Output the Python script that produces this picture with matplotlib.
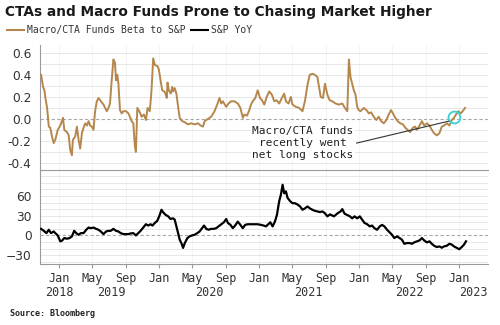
import matplotlib.pyplot as plt
import numpy as np

# Beta of Macro/CTA funds to the S&P 500 (time in decimal years)
beta_t = [2018.821, 2018.841, 2018.854, 2018.864, 2018.881, 2018.898, 2018.913, 2018.930,
          2018.947, 2018.963, 2018.987, 2019.013, 2019.040, 2019.053, 2019.080, 2019.097,
          2019.112, 2019.129, 2019.139, 2019.162, 2019.179, 2019.196, 2019.212, 2019.229,
          2019.246, 2019.262, 2019.279, 2019.296, 2019.311, 2019.328, 2019.345, 2019.361,
          2019.378, 2019.395, 2019.411, 2019.445, 2019.478, 2019.495, 2019.510, 2019.527,
          2019.544, 2019.560, 2019.570, 2019.584, 2019.594, 2019.610, 2019.627, 2019.644,
          2019.670, 2019.694, 2019.709, 2019.726, 2019.743, 2019.759, 2019.769, 2019.783,
          2019.803, 2019.826, 2019.849, 2019.869, 2019.886, 2019.908, 2019.925, 2019.942,
          2019.958, 2019.985, 2019.998, 2020.018, 2020.032, 2020.052, 2020.065, 2020.078,
          2020.085, 2020.098, 2020.118, 2020.132, 2020.141, 2020.157, 2020.174, 2020.191,
          2020.207, 2020.231, 2020.257, 2020.291, 2020.323, 2020.356, 2020.390, 2020.416,
          2020.440, 2020.456, 2020.490, 2020.522, 2020.555, 2020.582, 2020.605, 2020.622,
          2020.639, 2020.672, 2020.695, 2020.721, 2020.754, 2020.788, 2020.814, 2020.838,
          2020.854, 2020.881, 2020.903, 2020.920, 2020.937, 2020.963, 2020.987, 2021.010,
          2021.030, 2021.053, 2021.077, 2021.102, 2021.129, 2021.152, 2021.176, 2021.202,
          2021.229, 2021.252, 2021.269, 2021.296, 2021.318, 2021.335, 2021.368, 2021.401,
          2021.435, 2021.461, 2021.485, 2021.507, 2021.534, 2021.560, 2021.584, 2021.600,
          2021.617, 2021.640, 2021.660, 2021.684, 2021.706, 2021.733, 2021.766, 2021.799,
          2021.833, 2021.859, 2021.883, 2021.899, 2021.915, 2021.948, 2021.965, 2021.982,
          2021.998, 2022.015, 2022.048, 2022.075, 2022.098, 2022.121, 2022.147, 2022.174,
          2022.197, 2022.221, 2022.247, 2022.274, 2022.297, 2022.320, 2022.340, 2022.363,
          2022.386, 2022.413, 2022.440, 2022.463, 2022.486, 2022.512, 2022.539, 2022.562,
          2022.579, 2022.605, 2022.629, 2022.652, 2022.679, 2022.705, 2022.728, 2022.751,
          2022.778, 2022.804, 2022.828, 2022.851, 2022.878, 2022.904, 2022.928, 2022.950,
          2022.970, 2022.993, 2023.017, 2023.037, 2023.060]
beta = [0.40, 0.29, 0.26, 0.19, 0.10, -0.07, -0.08, -0.16,
        -0.22, -0.19, -0.10, -0.06, 0.01, -0.10, -0.12, -0.15,
        -0.28, -0.33, -0.19, -0.16, -0.07, -0.19, -0.27, -0.13,
        -0.08, -0.04, -0.06, -0.02, -0.06, -0.07, -0.10, 0.07,
        0.16, 0.19, 0.17, 0.13, 0.07, 0.10, 0.14, 0.35,
        0.54, 0.51, 0.35, 0.40, 0.32, 0.08, 0.05, 0.07,
        0.07, 0.05, 0.02, -0.02, -0.04, -0.25, -0.30, 0.10,
        0.07, 0.02, 0.04, -0.01, 0.10, 0.07, 0.26, 0.55,
        0.49, 0.48, 0.45, 0.34, 0.26, 0.25, 0.23, 0.19,
        0.33, 0.26, 0.23, 0.29, 0.25, 0.28, 0.23, 0.11,
        0.01, -0.02, -0.03, -0.05, -0.04, -0.05, -0.04, -0.06,
        -0.07, -0.02, 0.00, 0.02, 0.07, 0.13, 0.19, 0.14,
        0.16, 0.11, 0.14, 0.16, 0.16, 0.14, 0.10, 0.01,
        0.04, 0.03, 0.08, 0.13, 0.16, 0.19, 0.26, 0.19,
        0.17, 0.13, 0.20, 0.25, 0.22, 0.16, 0.17, 0.14,
        0.19, 0.23, 0.16, 0.14, 0.20, 0.13, 0.11, 0.10,
        0.07, 0.17, 0.31, 0.40, 0.41, 0.40, 0.38, 0.29,
        0.20, 0.19, 0.32, 0.22, 0.17, 0.16, 0.14, 0.13,
        0.14, 0.10, 0.07, 0.54, 0.38, 0.26, 0.22, 0.11,
        0.08, 0.07, 0.10, 0.08, 0.05, 0.06, 0.02, -0.01,
        0.02, -0.02, -0.04, -0.01, 0.04, 0.08, 0.05, 0.01,
        -0.02, -0.04, -0.05, -0.08, -0.10, -0.12, -0.08, -0.07,
        -0.10, -0.06, -0.02, -0.06, -0.04, -0.06, -0.10, -0.13,
        -0.15, -0.13, -0.07, -0.06, -0.04, -0.06, -0.01, 0.01,
        0.04, 0.07, 0.05, 0.07, 0.10]

# S&P 500 year-over-year change, %
spx_t = [2018.821, 2018.848, 2018.874, 2018.898, 2018.920, 2018.947, 2018.963, 2018.987,
         2019.013, 2019.030, 2019.053, 2019.080, 2019.106, 2019.129, 2019.152, 2019.172,
         2019.196, 2019.219, 2019.246, 2019.272, 2019.296, 2019.318, 2019.345, 2019.371,
         2019.395, 2019.418, 2019.445, 2019.471, 2019.495, 2019.517, 2019.544, 2019.570,
         2019.594, 2019.617, 2019.644, 2019.670, 2019.694, 2019.716, 2019.743, 2019.769,
         2019.793, 2019.816, 2019.843, 2019.869, 2019.893, 2019.915, 2019.935, 2019.958,
         2019.982, 2020.002, 2020.025, 2020.042, 2020.068, 2020.092, 2020.114, 2020.141,
         2020.157, 2020.174, 2020.191, 2020.207, 2020.224, 2020.241, 2020.257, 2020.284,
         2020.306, 2020.330, 2020.356, 2020.383, 2020.406, 2020.430, 2020.450, 2020.473,
         2020.496, 2020.522, 2020.549, 2020.572, 2020.595, 2020.622, 2020.649, 2020.672,
         2020.689, 2020.715, 2020.738, 2020.761, 2020.788, 2020.814, 2020.838, 2020.861,
         2020.888, 2020.920, 2020.953, 2020.987, 2021.020, 2021.047, 2021.070, 2021.093,
         2021.113, 2021.136, 2021.159, 2021.179, 2021.202, 2021.219, 2021.236, 2021.252,
         2021.269, 2021.286, 2021.312, 2021.335, 2021.358, 2021.385, 2021.411, 2021.435,
         2021.458, 2021.485, 2021.510, 2021.534, 2021.557, 2021.584, 2021.610, 2021.634,
         2021.657, 2021.684, 2021.710, 2021.749, 2021.789, 2021.816, 2021.833, 2021.856,
         2021.883, 2021.909, 2021.932, 2021.955, 2021.982, 2022.008, 2022.032, 2022.055,
         2022.082, 2022.108, 2022.131, 2022.154, 2022.181, 2022.207, 2022.231, 2022.254,
         2022.281, 2022.307, 2022.330, 2022.353, 2022.380, 2022.406, 2022.430, 2022.453,
         2022.480, 2022.506, 2022.530, 2022.552, 2022.579, 2022.605, 2022.629, 2022.652,
         2022.679, 2022.705, 2022.728, 2022.751, 2022.778, 2022.804, 2022.828, 2022.851,
         2022.878, 2022.904, 2022.928, 2022.950, 2022.978, 2023.003, 2023.027, 2023.050,
         2023.070]
spx_yoy = [10, 7, 3.5, 8.6, 3.5, 6, 3.5, 0,
           -9, -8, -4, -5, -4, -1.5, 7, 3.5,
           1, 3.5, 3.5, 8.6, 12, 11, 12, 10,
           8.6, 6, 2, 6, 7, 7, 10, 7,
           6, 3.5, 2, 2, 2, 3, 3.5, 0,
           3.5, 7, 12, 17, 15, 17, 15, 19,
           22, 29, 39, 35, 31, 29, 25, 26,
           24, 14, 3.5, -6.5, -11.6, -19, -12, -4,
           -1.5, 0, 1, 3.5, 6, 11, 15, 10,
           8.6, 10, 10, 11, 13.7, 17, 20, 25,
           19, 16, 11, 15, 21, 16, 11, 16,
           17, 17, 17, 17, 16, 15, 13.7, 17,
           20, 13.7, 21, 31, 52, 62, 77, 64,
           67, 57, 52, 49, 49, 47, 44, 39,
           41, 44, 41, 39, 37.5, 36.5, 35.5, 36.5,
           34, 29, 32, 29, 34, 36.5, 40, 33,
           31, 29, 26, 29, 26, 29, 24, 19,
           17, 13.7, 15, 11, 8.6, 13.7, 16, 13.7,
           8.6, 4.5, 1, -4, -1.5, -4, -6.6, -12.7,
           -11.6, -11.6, -12.7, -10.6, -9, -7.6, -4, -7.6,
           -10.6, -9, -12.7, -15.7, -17.7, -16.7, -18.7, -16.7,
           -15.7, -12.7, -14, -16.7, -19, -21, -17.7, -14,
           -9]

# axis labels
month_ticks = [2019.0, 2019.329, 2019.666, 2020.0, 2020.329, 2020.666, 2021.0, 2021.329,
               2021.666, 2022.0, 2022.329, 2022.666, 2023.0]
month_labels = ["Jan", "May", "Sep"] * 4 + ["Jan"]
year_labels = ["2018", "2019", "2020", "2021", "2022", "2023"]
year_pos = [2019.0, 2019.527, 2020.502, 2021.497, 2022.502, 2023.139]

# point where the beta turned positive
turn_t, turn_v = 2022.953, 0.015

tan = "#b5874c"
grid_c = "#e3e3e3"
spine_c = "#9a9a9a"
xmin, xmax = 2018.81, 2023.29

fig = plt.figure(figsize=(5, 3.25), dpi=100)
ax1 = fig.add_axes([0.08, 0.477, 0.896, 0.385])
ax2 = fig.add_axes([0.08, 0.188, 0.896, 0.289])

for ax in (ax1, ax2):
    ax.set_xlim(xmin, xmax)
    for s in ("top", "right", "bottom"):
        ax.spines[s].set_visible(False)
    ax.spines["left"].set_color(spine_c)
    ax.spines["left"].set_linewidth(0.8)
    ax.set_axisbelow(True)
    for t in month_ticks:
        ax.axvline(t, color="#f3f3f3", lw=0.6, zorder=0)
    ax.tick_params(axis="y", length=0, labelsize=8.8, colors="#333333", pad=6)

# panel separator and bottom axis line belong to the lower panel
for s in ("top", "bottom"):
    ax2.spines[s].set_visible(True)
    ax2.spines[s].set_color(spine_c)
    ax2.spines[s].set_linewidth(0.8)

# top panel: beta
for v in np.arange(-0.4, 0.65, 0.1):
    if abs(v) > 1e-9:
        ax1.axhline(v, color=grid_c, lw=0.6, zorder=0)
ax1.axhline(0, color="#a8a8a8", lw=0.8, ls=(0, (3, 2)), zorder=1)
ax1.plot(beta_t, beta, color=tan, lw=1.4, zorder=3)
ax1.set_ylim(-0.464, 0.673)
ax1.set_yticks([-0.4, -0.2, 0.0, 0.2, 0.4, 0.6])
ax1.set_yticklabels(["-0.4", "-0.2", "0.0", "0.2", "0.4", "0.6"])
ax1.xaxis.set_visible(False)

ax1.plot([turn_t], [turn_v], marker="o", ms=8.5, mfc="none", mec="#3fd3d6", mew=1.4, zorder=4)
ax1.text(2021.438, -0.22, "Macro/CTA funds\nrecently went\nnet long stocks",
         ha="center", va="center", family="DejaVu Sans Mono", fontsize=8, color="#222222",
         linespacing=1.25, zorder=5,
         bbox=dict(facecolor="white", edgecolor="none", pad=1))
ax1.annotate("", xy=(2022.900, -0.02), xytext=(2021.975, -0.22),
             arrowprops=dict(arrowstyle="-", color="#333333", lw=0.8, shrinkA=0, shrinkB=0),
             zorder=5)

# bottom panel: S&P YoY
for v in range(-40, 100, 10):
    if v != 0:
        ax2.axhline(v, color=grid_c, lw=0.6, zorder=0)
ax2.axhline(0, color="#a8a8a8", lw=0.8, ls=(0, (3, 2)), zorder=1)
ax2.plot(spx_t, spx_yoy, color="black", lw=1.6, zorder=3)
ax2.set_ylim(-43.3, 99.5)
ax2.set_yticks([-30, 0, 30, 60])
ax2.set_xticks(month_ticks)
ax2.set_xticklabels(month_labels, family="DejaVu Sans Mono", fontsize=8.5, color="#333333")
ax2.tick_params(axis="x", length=3, color=spine_c, pad=3)
for yl, yp in zip(year_labels, year_pos):
    ax2.text(yp, -0.30, yl, transform=ax2.get_xaxis_transform(), ha="center", va="center",
             family="DejaVu Sans Mono", fontsize=8.5, color="#333333")

# title, legend, source
fig.text(0.01, 1 - 12 / 325, "CTAs and Macro Funds Prone to Chasing Market Higher",
         fontsize=9.9, fontweight="bold", va="center", ha="left", color="#1a1a1a")
h1, = ax1.plot([], [], color=tan, lw=1.5)
h2, = ax2.plot([], [], color="black", lw=1.5)
fig.legend([h1, h2], ["Macro/CTA Funds Beta to S&P", "S&P YoY"], loc="center left",
           bbox_to_anchor=(0.014, 1 - 30 / 325), ncol=2, frameon=False,
           prop={"family": "DejaVu Sans Mono", "size": 7}, handlelength=1.7,
           handletextpad=0.35, columnspacing=0.6, borderpad=0, borderaxespad=0,
           labelcolor="#333333")
fig.text(0.02, 1 - 313 / 325, "Source: Bloomberg", fontsize=6, fontweight="bold",
         family="DejaVu Sans Mono", va="center", ha="left", color="#222222")

fig.savefig("out.png", dpi=100)
